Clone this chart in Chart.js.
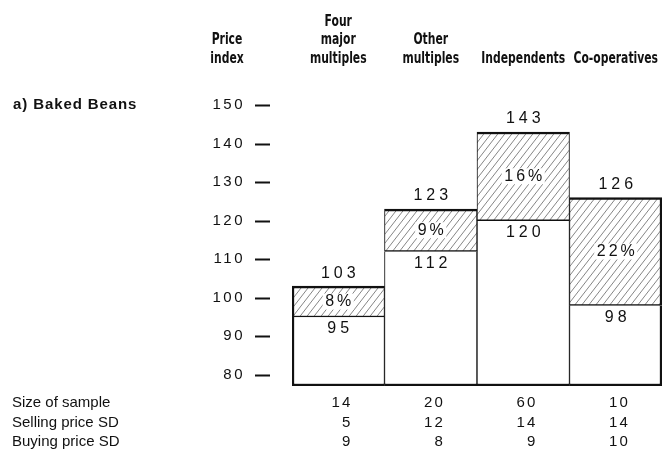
<!DOCTYPE html>
<html>
<head>
<meta charset="utf-8">
<script src="https://cdn.jsdelivr.net/npm/chart.js@4.4.1/dist/chart.umd.min.js"></script>
<style>
  html, body { margin: 0; padding: 0; background: #fff; }
  #wrap { width: 671px; height: 457px; }
</style>
</head>
<body>
<div id="wrap"><canvas id="myChart" width="671" height="457"></canvas></div>
<script>
// data
const categories = ['Four major multiples', 'Other multiples', 'Independents', 'Co-operatives'];
const headerLines = [['Four', 'major', 'multiples'], ['Other', 'multiples'], ['Independents'], ['Co-operatives']];
const lowPrice = [95, 112, 120, 98];
const highPrice = [103, 123, 143, 126];
const markupPct = [8, 9, 16, 22];
const sampleSize = [14, 20, 60, 10];
const sellingSD = [5, 12, 14, 14];
const buyingSD = [9, 8, 9, 10];
const yTicks = [80, 90, 100, 110, 120, 130, 140, 150];
const rowLabels = ['Size of sample', 'Selling price SD', 'Buying price SD'];
const yMin = 77.1, yMax = 150;

const SANS = "'Liberation Sans', Arial, Helvetica, sans-serif";
const COND = "'DejaVu Sans Condensed', 'DejaVu Sans', sans-serif";

/* diagonal hatch used for the mark-up part of each bar */
function makeHatch() {
  const w = 7, h = 9;
  const c = document.createElement('canvas');
  c.width = w; c.height = h;
  const g = c.getContext('2d');
  g.fillStyle = '#fff';
  g.fillRect(0, 0, w, h);
  g.strokeStyle = '#666';
  g.lineWidth = 0.8;
  g.beginPath();
  g.moveTo(0, h); g.lineTo(w, 0);
  g.moveTo(-w, h); g.lineTo(0, 0);
  g.moveTo(w, h); g.lineTo(2 * w, 0);
  g.stroke();
  return g.createPattern(c, 'repeat');
}

function sideBorder(ctx, extra) {
  const i = ctx.dataIndex;
  return Object.assign({
    left: i === 0 ? 2.5 : 1,
    right: i === categories.length - 1 ? 2.5 : 1
  }, extra);
}

function txt(ctx, s, x, y, font, align, spacing, sx) {
  ctx.save();
  ctx.font = font;
  ctx.letterSpacing = (spacing || 0) + 'px';
  ctx.textAlign = align || 'center';
  ctx.textBaseline = 'middle';
  ctx.fillStyle = '#111';
  // letterSpacing adds a trailing gap, compensate for it
  let dx = 0;
  if (align === 'center' || !align) dx = (spacing || 0) / 2;
  if (align === 'right') dx = spacing || 0;
  ctx.translate(x + dx, y);
  ctx.scale(sx || 1, 1);
  ctx.fillText(s, 0, 0);
  ctx.restore();
}

const labelsPlugin = {
  id: 'labelsPlugin',
  beforeDraw(chart) {
    chart.ctx.letterSpacing = '2.5px';
  },
  afterDatasetsDraw(chart) {
    const ctx = chart.ctx;
    const xs = chart.scales.x, ys = chart.scales.y;
    ctx.letterSpacing = '0px';

    // short dashes beside the tick values
    ctx.save();
    ctx.strokeStyle = '#111';
    ctx.lineWidth = 2;
    yTicks.forEach(v => {
      const y = Math.round(ys.getPixelForValue(v)) + 0.5;
      ctx.beginPath();
      ctx.moveTo(255, y); ctx.lineTo(270, y);
      ctx.stroke();
    });
    ctx.restore();

    const numFont = '16px ' + SANS;
    const headFont = 'bold 15px ' + COND;
    categories.forEach((c, i) => {
      const x = xs.getPixelForValue(i);
      const yHi = ys.getPixelForValue(highPrice[i]);
      const yLo = ys.getPixelForValue(lowPrice[i]);
      txt(ctx, String(highPrice[i]), x, yHi - 13, numFont, 'center', 4);
      txt(ctx, String(lowPrice[i]), x, yLo + 12, numFont, 'center', 4);
      // percent sits on a small clear patch inside the hatching
      const p = markupPct[i] + '%';
      ctx.save();
      ctx.font = numFont;
      ctx.letterSpacing = '3px';
      const w = ctx.measureText(p).width;
      ctx.fillStyle = '#fff';
      ctx.fillRect(x - w / 2 - 1, (yHi + yLo) / 2 - 8, w + 2, 16);
      ctx.restore();
      txt(ctx, p, x, (yHi + yLo) / 2, numFont, 'center', 3);

      // column headers, bottom-aligned
      const lines = headerLines[i];
      lines.forEach((ln, k) => {
        const y = 59 - (lines.length - 1 - k) * 18.5;
        txt(ctx, ln, x, y, headFont, 'center', 0, 0.8);
      });

      // sample table under the bars
      const rx = x + 12;
      txt(ctx, String(sampleSize[i]), rx, 403, '15px ' + SANS, 'right', 2);
      txt(ctx, String(sellingSD[i]), rx, 423, '15px ' + SANS, 'right', 2);
      txt(ctx, String(buyingSD[i]), rx, 442, '15px ' + SANS, 'right', 2);
    });

    txt(ctx, 'Price', 227, 40, headFont, 'center', 0, 0.8);
    txt(ctx, 'index', 227, 59, headFont, 'center', 0, 0.8);
    txt(ctx, 'a) Baked Beans', 13, ys.getPixelForValue(150), 'bold 15px ' + SANS, 'left', 0.9);
    rowLabels.forEach((r, k) => {
      txt(ctx, r, 12, 403 + k * 19.5, '15px ' + SANS, 'left', 0);
    });
  }
};

const ctx = document.getElementById('myChart').getContext('2d');
const hatch = makeHatch();

const myChart = new Chart(ctx, {
  type: 'bar',
  data: {
    labels: categories,
    datasets: [{
      label: 'Buying price index',
      data: lowPrice,
      base: yMin,
      backgroundColor: '#fff',
      borderColor: '#111',
      borderWidth: c => sideBorder(c, { top: 0, bottom: 2.5 }),
      borderSkipped: false,
      grouped: false,
      barPercentage: 1,
      categoryPercentage: 1,
      order: 2
    }, {
      label: 'Selling price index',
      data: lowPrice.map((v, i) => [v, highPrice[i]]),
      backgroundColor: hatch,
      borderColor: '#111',
      borderWidth: c => sideBorder(c, { top: 2.5, bottom: 1.5 }),
      borderSkipped: false,
      grouped: false,
      barPercentage: 1,
      categoryPercentage: 1,
      order: 1
    }]
  },
  options: {
    responsive: false,
    animation: false,
    layout: { padding: { left: 0, right: 9, top: 105, bottom: 71 } },
    plugins: { legend: { display: false }, tooltip: { enabled: false } },
    scales: {
      x: { type: 'category', display: false },
      y: {
        min: yMin,
        max: yMax,
        afterBuildTicks: s => { s.ticks = yTicks.map(v => ({ value: v })); },
        afterFit: s => { s.width = 292; },
        grid: { display: false, drawTicks: false },
        border: { display: false },
        ticks: {
          padding: 47,
          color: '#111',
          font: { family: SANS, size: 15 }
        }
      }
    }
  },
  plugins: [labelsPlugin]
});
</script>
</body>
</html>
